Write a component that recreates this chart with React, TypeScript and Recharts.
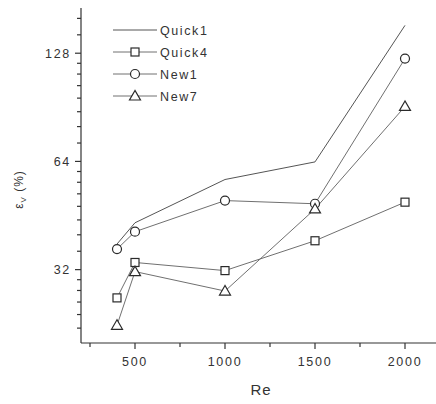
import React from "react";
import { LineChart, Line, XAxis, YAxis, Legend } from "recharts";

// Re values and the four ε_V series
const RE = [400, 500, 1000, 1500, 2000];
const QUICK1 = [37.7, 43.2, 57, 63.8, 153];
const QUICK4 = [26.7, 33.5, 31.8, 38.5, 49.3];
const NEW1 = [36.5, 40.8, 49.8, 48.8, 123.7];
const NEW7 = [22.4, 31.6, 27.9, 47.2, 91];

const X_MAJOR = [500, 1000, 1500, 2000];
const X_MINOR = [250, 750, 1250, 1750];
const Y_MAJOR = [32, 64, 128];
const Y_MINOR = [
  22, 24, 26, 28, 30, 36, 40, 44, 48, 52, 56, 60, 72, 80, 88, 96, 104, 112,
  120, 144, 160,
];

const SERIES = [
  { key: "quick1", name: "Quick1" },
  { key: "quick4", name: "Quick4" },
  { key: "new1", name: "New1" },
  { key: "new7", name: "New7" },
];

const data = RE.map((re, i) => ({
  re,
  quick1: QUICK1[i],
  quick4: QUICK4[i],
  new1: NEW1[i],
  new7: NEW7[i],
}));

const FONT = "'Liberation Sans', Arial, sans-serif";
const AXIS = "#333";
const LINE = "#707070";
const MARK = "#2a2a2a";
const TEXT = "#333";

function Square({ cx, cy }: { cx?: number; cy?: number }) {
  if (cx == null || cy == null) return null;
  return (
    <rect x={cx - 4} y={cy - 4} width={8} height={8} fill="#fff" stroke={MARK} strokeWidth={1.2} />
  );
}

function Circle({ cx, cy }: { cx?: number; cy?: number }) {
  if (cx == null || cy == null) return null;
  return <circle cx={cx} cy={cy} r={4.5} fill="#fff" stroke={MARK} strokeWidth={1.2} />;
}

function Triangle({ cx, cy }: { cx?: number; cy?: number }) {
  if (cx == null || cy == null) return null;
  const pts = `${cx},${cy - 5.5} ${cx - 5.5},${cy + 4} ${cx + 5.5},${cy + 4}`;
  return <polygon points={pts} fill="#fff" stroke={MARK} strokeWidth={1.2} />;
}

const MARKERS: Record<string, (p: { cx?: number; cy?: number }) => React.ReactElement | null> = {
  quick4: Square,
  new1: Circle,
  new7: Triangle,
};

function XTick({ x, y, payload }: any) {
  const major = X_MAJOR.includes(payload.value);
  return (
    <g>
      <line x1={x} x2={x} y1={y} y2={y + (major ? 6 : 4)} stroke={AXIS} strokeWidth={1.2} />
      {major && (
        <text
          x={x}
          y={y + 23}
          textAnchor="middle"
          fontFamily={FONT}
          fontSize={12.5}
          letterSpacing={1.7}
          fill={TEXT}
        >
          {payload.value}
        </text>
      )}
    </g>
  );
}

function YTick({ x, y, payload }: any) {
  const major = Y_MAJOR.includes(payload.value);
  return (
    <g>
      <line x1={x - (major ? 6 : 4)} x2={x} y1={y} y2={y} stroke={AXIS} strokeWidth={1.2} />
      {major && (
        <text
          x={x - 10}
          y={y + 4.5}
          textAnchor="end"
          fontFamily={FONT}
          fontSize={12.5}
          letterSpacing={1.7}
          fill={TEXT}
        >
          {payload.value}
        </text>
      )}
    </g>
  );
}

function YLabel({ viewBox }: any) {
  const vx = viewBox?.x ?? 0;
  const vy = viewBox?.y ?? 4;
  const vh = viewBox?.height ?? 335;
  const cx = vx + 15;
  const cy = vy + vh / 2 + 14;
  return (
    <text
      x={cx}
      y={cy}
      transform={`rotate(-90, ${cx}, ${cy})`}
      textAnchor="middle"
      fontFamily={FONT}
      fontSize={12}
      letterSpacing={1}
      fill={TEXT}
    >
      ε
      <tspan dy={3} fontSize={8}>
        V
      </tspan>
      <tspan dy={-3}> (%)</tspan>
    </text>
  );
}

function LegendBox() {
  return (
    <svg width={120} height={92} style={{ display: "block" }}>
      {SERIES.map((s, i) => {
        const cy = 10 + i * 22;
        const Marker = MARKERS[s.key];
        return (
          <g key={s.key}>
            <line
              x1={5}
              x2={49}
              y1={cy}
              y2={cy}
              stroke={s.key === "quick1" ? "#555" : LINE}
              strokeWidth={1}
            />
            {Marker && <Marker cx={27} cy={cy} />}
            <text
              x={52}
              y={cy + 4.5}
              fontFamily={FONT}
              fontSize={12.5}
              letterSpacing={1.6}
              fill={TEXT}
            >
              {s.name}
            </text>
          </g>
        );
      })}
    </svg>
  );
}

export default function App() {
  return (
    <div
      style={{
        position: "absolute",
        left: 8,
        top: 4,
        width: 428,
        height: 400,
        overflow: "hidden",
        background: "#fff",
      }}
    >
      <LineChart
        width={440}
        height={400}
        data={data}
        margin={{ top: 4, right: 7, bottom: 5, left: 0 }}
      >
        <XAxis
          dataKey="re"
          type="number"
          domain={[200, 2200]}
          ticks={[...X_MINOR, ...X_MAJOR].sort((a, b) => a - b)}
          interval={0}
          tick={<XTick />}
          tickLine={false}
          tickSize={0}
          tickMargin={0}
          height={56}
          axisLine={{ stroke: AXIS, strokeWidth: 1.2 }}
          label={{
            value: "Re",
            position: "insideBottom",
            offset: 4,
            fontFamily: FONT,
            fontSize: 15,
            letterSpacing: 1,
            fill: TEXT,
          }}
        />
        <XAxis
          xAxisId="top"
          orientation="top"
          type="number"
          domain={[200, 2200]}
          tick={false}
          tickLine={false}
          height={0}
          axisLine={{ stroke: AXIS, strokeWidth: 1.2 }}
        />
        <YAxis
          type="number"
          scale="log"
          domain={[20, 171]}
          allowDataOverflow
          ticks={[...Y_MINOR, ...Y_MAJOR].sort((a, b) => a - b)}
          interval={0}
          tick={<YTick />}
          tickLine={false}
          tickSize={0}
          tickMargin={0}
          width={73}
          axisLine={{ stroke: AXIS, strokeWidth: 1.2 }}
          label={<YLabel />}
        />
        <Legend
          layout="vertical"
          align="center"
          verticalAlign="middle"
          wrapperStyle={{ left: 100, top: 16, width: 120 }}
          content={<LegendBox />}
        />
        <Line
          dataKey="quick1"
          name="Quick1"
          type="linear"
          stroke="#555"
          strokeWidth={1}
          dot={false}
          activeDot={false}
          isAnimationActive={false}
        />
        <Line
          dataKey="quick4"
          name="Quick4"
          type="linear"
          stroke={LINE}
          strokeWidth={1}
          dot={<Square />}
          activeDot={false}
          isAnimationActive={false}
        />
        <Line
          dataKey="new1"
          name="New1"
          type="linear"
          stroke={LINE}
          strokeWidth={1}
          dot={<Circle />}
          activeDot={false}
          isAnimationActive={false}
        />
        <Line
          dataKey="new7"
          name="New7"
          type="linear"
          stroke={LINE}
          strokeWidth={1}
          dot={<Triangle />}
          activeDot={false}
          isAnimationActive={false}
        />
      </LineChart>
    </div>
  );
}
